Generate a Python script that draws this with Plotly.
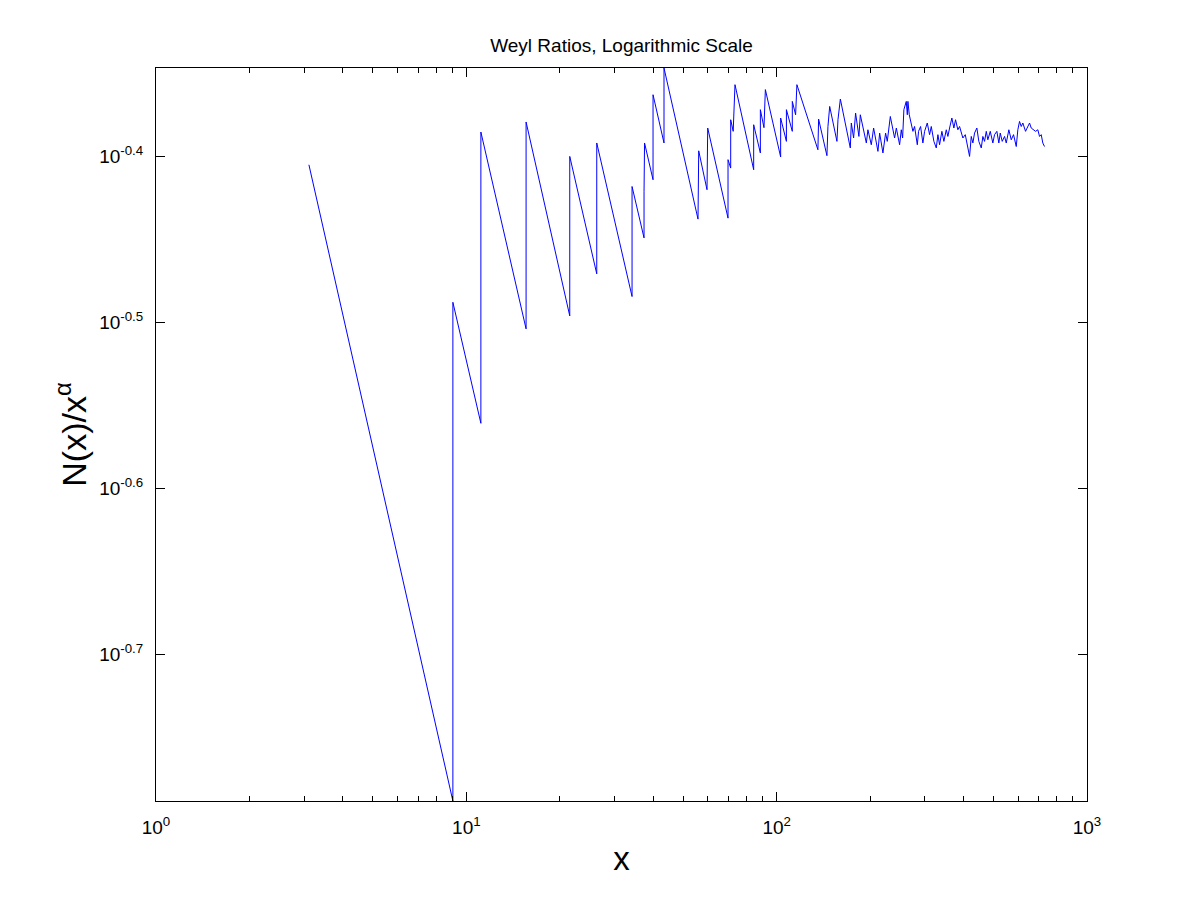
import math
import plotly.graph_objects as go

# ---- data (vertices of the sawtooth Weyl ratio curve) ----
x_early = [3.110, 9.05, 9.05, 11.14, 11.14, 15.58, 15.58, 21.54, 21.54, 26.32, 26.32,
           34.20, 34.20, 37.38, 37.38, 37.52, 39.96, 39.96, 43.35, 43.35, 55.79, 55.79,
           56.08, 59.64, 59.64, 59.95, 69.70, 69.70, 71.10, 71.10, 72.43, 73.40, 84.32,
           84.32, 88.61, 88.61, 91.01, 91.96, 103.0, 103.0, 107.5, 107.5, 112.3, 112.3,
           115.1, 116.2]
ratio_early = [0.3937, 0.1628, 0.3253, 0.2750, 0.4120, 0.3135, 0.4178, 0.3192, 0.3983,
               0.3384, 0.4058, 0.3279, 0.3820, 0.3557, 0.3792, 0.4058, 0.3856, 0.4339,
               0.4058, 0.4503, 0.3651, 0.3824, 0.4014, 0.3803, 0.3965, 0.4143, 0.3656,
               0.3965, 0.3919, 0.4191, 0.4124, 0.4400, 0.3910, 0.4162, 0.4002, 0.4250,
               0.4145, 0.4370, 0.3980, 0.4201, 0.4067, 0.4250, 0.4124, 0.4299, 0.4220,
               0.4400]

x_mid = [135.8, 136.5, 145.2, 146.3, 148.2, 156.4, 157.6, 160.4, 172.7, 174.0, 177.0,
         179.6, 184.1, 186.0, 194.5, 196.8, 201.8, 205.3, 212.0, 214.7, 220.0, 224.4,
         227.2, 232.4]
ratio_mid = [0.4020, 0.4195, 0.3987, 0.4152, 0.4269, 0.4067, 0.4191, 0.4313, 0.4030,
             0.4172, 0.4086, 0.4230, 0.4095, 0.4220, 0.4058, 0.4133, 0.4048, 0.4143,
             0.4011, 0.4114, 0.4002, 0.4114, 0.4067, 0.4210]

x_tail = [239.9, 243.0, 249.0, 252.1, 254.6, 257.0, 261.6, 263.6, 264.8, 267.5, 274.8,
          278.2, 283.9, 286.6, 290.9, 295.9, 299.7, 305.7, 311.0, 314.9, 321.1, 326.8,
          330.8, 334.9, 340.7, 345.8, 352.0, 356.2, 360.7, 366.9, 372.4, 377.1, 383.6,
          388.5, 398.1, 405.3, 418.4, 423.7, 428.8, 434.2, 441.7, 448.2, 456.3, 461.8,
          467.6, 473.6, 479.2, 487.8, 497.3, 503.6, 512.3, 519.9, 525.4, 533.2, 542.4,
          549.3, 560.0, 570.0, 579.8, 591.6, 598.6, 606.2, 613.9, 621.2, 633.8, 644.7,
          652.9, 661.1, 672.5, 682.6, 694.3, 703.1, 712.0, 720.4, 729.6]
ratio_tail = [0.4086, 0.4143, 0.4048, 0.4133, 0.4086, 0.4250, 0.4299, 0.4220, 0.4299,
              0.4220, 0.4124, 0.4152, 0.4048, 0.4124, 0.4152, 0.4058, 0.4124, 0.4172,
              0.4105, 0.4152, 0.4067, 0.4030, 0.4105, 0.4048, 0.4124, 0.4067, 0.4133,
              0.4095, 0.4143, 0.4201, 0.4143, 0.4191, 0.4133, 0.4152, 0.4086, 0.4105,
              0.3983, 0.4095, 0.4058, 0.4114, 0.4143, 0.4067, 0.4030, 0.4095, 0.4067,
              0.4124, 0.4076, 0.4124, 0.4058, 0.4105, 0.4124, 0.4058, 0.4114, 0.4067,
              0.4095, 0.4058, 0.4133, 0.4076, 0.4105, 0.4038, 0.4133, 0.4181, 0.4152,
              0.4172, 0.4124, 0.4152, 0.4172, 0.4143, 0.4133, 0.4124, 0.4133, 0.4095,
              0.4105, 0.4058, 0.4038]

x_major_ticks = [1, 10, 100, 1000]
x_major_labels = ["10<sup>0</sup>", "10<sup>1</sup>", "10<sup>2</sup>", "10<sup>3</sup>"]
x_minor_ticks = [m * d for d in (1, 10, 100) for m in range(2, 10)]
y_tick_exponents = [-0.7, -0.6, -0.5, -0.4]
y_tick_labels = ["10<sup>-0.7</sup>", "10<sup>-0.6</sup>", "10<sup>-0.5</sup>", "10<sup>-0.4</sup>"]

title_text = "Weyl Ratios, Logarithmic Scale"
x_label = "x"
y_label = "N(x)/x<sup>α</sup>"

# ---- figure ----
x_all = x_early + x_mid + x_tail
r_all = ratio_early + ratio_mid + ratio_tail

FONT = "Liberation Sans, Arial, Helvetica, sans-serif"

fig = go.Figure()
fig.add_trace(go.Scatter(
    x=x_all, y=r_all, mode="lines",
    line=dict(color="#0000ff", width=1),
    showlegend=False, hoverinfo="skip",
))

y_lo = math.log10(min(r_all))
y_hi = math.log10(max(r_all))

fig.update_layout(
    width=1200, height=900,
    paper_bgcolor="white", plot_bgcolor="white",
    margin=dict(l=148, r=121, t=60, b=107),
    font=dict(family=FONT, color="black", size=16),
    title=dict(text=title_text, x=0.5, xref="paper", y=1 - 37 / 900, yref="container",
               xanchor="center", yanchor="middle", font=dict(size=19, family=FONT, color="black")),
    xaxis=dict(
        type="log", range=[0, 3],
        tickmode="array", tickvals=x_major_ticks, ticktext=x_major_labels,
        ticks="inside", ticklen=9, tickwidth=1, tickcolor="black",
        showline=True, linecolor="black", linewidth=1, mirror="ticks",
        showgrid=False, zeroline=False,
        tickfont=dict(size=19, family=FONT, color="black"),
        ticklabelstandoff=9,
        minor=dict(tickmode="array", tickvals=x_minor_ticks, ticks="inside", ticklen=5,
                   tickwidth=1, tickcolor="black", showgrid=False),
        title=dict(text=x_label, font=dict(size=33, family=FONT, color="black"), standoff=10),
    ),
    yaxis=dict(
        type="log", range=[y_lo, y_hi],
        tickmode="array", tickvals=[10 ** e for e in y_tick_exponents], ticktext=y_tick_labels,
        ticks="inside", ticklen=9, tickwidth=1, tickcolor="black",
        showline=True, linecolor="black", linewidth=1, mirror="ticks",
        showgrid=False, zeroline=False,
        tickfont=dict(size=19, family=FONT, color="black"),
        ticklabelstandoff=8,
        title=dict(text=y_label, font=dict(size=34, family=FONT, color="black"), standoff=2),
    ),
)

fig.write_html("out.html")
